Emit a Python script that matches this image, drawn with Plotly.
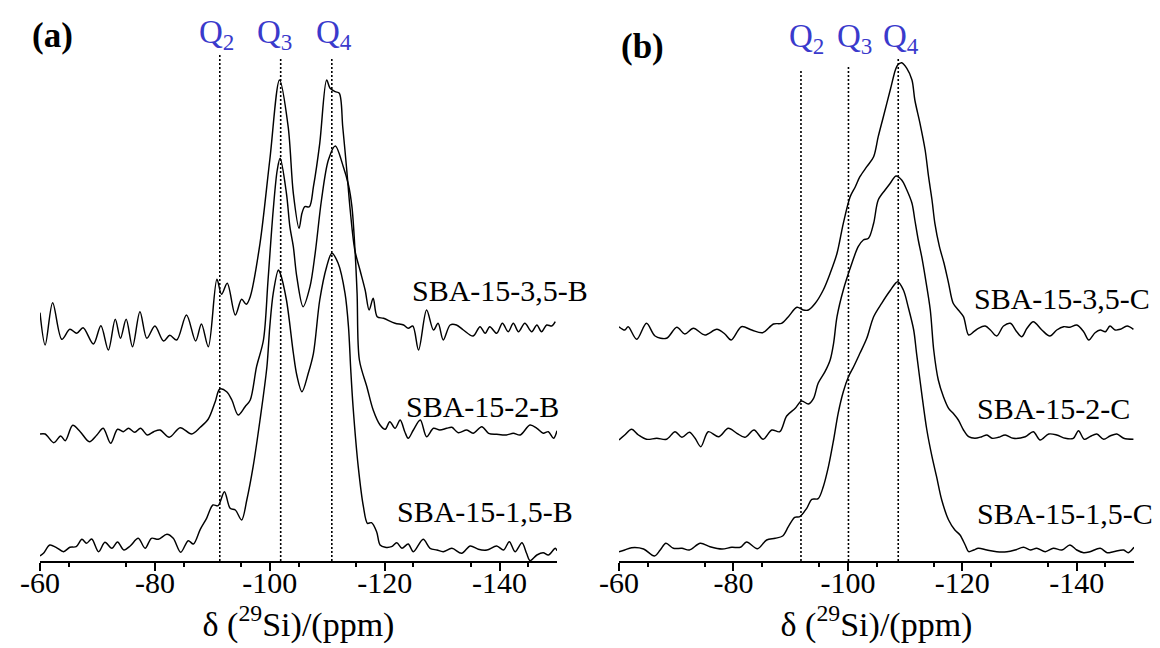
import plotly.graph_objects as go

# ---------------- data (chemical shift in ppm, intensity in arbitrary units) ----------------
# Panel (a)
a1_ppm = [-60.0,-60.9,-62.2,-63.8,-65.2,-66.4,-67.5,-69.3,-70.6,-71.9,
          -73.1,-74.0,-75.0,-76.1,-77.4,-78.6,-80.0,-81.5,-82.6,-83.8,
          -85.5,-87.1,-88.1,-89.3,-90.8,-91.6,-92.6,-94.0,-95.1,-95.9,
          -96.6,-98.3,-100.0,-101.7,-103.2,-104.1,-105.1,-105.6,-106.1,-106.9,
          -107.6,-108.7,-109.9,-110.5,-111.4,-112.1,-112.7,-113.4,-114.0,-114.8,
          -115.7,-116.6,-117.3,-118.0,-118.7,-119.8,-121.8,-123.3,-124.1,-124.9,
          -125.9,-127.3,-128.5,-129.3,-130.2,-131.4,-132.5,-133.7,-135.4,-136.6,
          -137.5,-138.3,-139.5,-140.5,-141.5,-142.4,-143.3,-144.4,-145.6,-146.5,
          -147.3,-148.2,-149.1,-149.7]
a1_int = [18.3,-14,28.3,-8.3,1.7,-2.3,3.3,-13,5.3,-19,
          11.7,-7.3,11.7,-15.7,19.3,-7.3,5,-10,-4.3,-9,
          16,-10,7,-15.7,51.7,36.7,47.7,16,31.7,26.7,
          34.3,87.7,171,251,204.3,137.7,102.7,117.7,124.3,124.3,
          144.3,187.7,251,242.7,239.3,237.7,204.3,161,121,81,
          61,41,21,32.7,14.3,12.7,7.7,6,2.7,5,
          -19,21,1,7.7,-9,6,6,1,-5,4.3,
          -2.3,4.3,-2.3,7.7,-0.7,7.7,-0.7,7.7,-0.7,6,
          -0.7,6,5,9.3]

a2_ppm = [-60.0,-60.9,-62.4,-63.6,-64.4,-65.7,-67.0,-68.6,-69.9,-71.0,
          -72.3,-73.5,-74.5,-75.4,-76.5,-77.5,-78.7,-79.8,-80.9,-82.5,
          -84.4,-86.4,-87.9,-89.3,-90.5,-91.3,-92.5,-93.4,-94.5,-95.7,
          -96.6,-97.7,-98.9,-99.7,-100.6,-101.3,-101.8,-102.9,-103.5,-104.1,
          -104.7,-105.8,-107.0,-107.9,-109.0,-110.2,-111.4,-112.8,-113.7,-114.3,
          -114.8,-115.2,-115.6,-116.9,-118.0,-119.2,-120.1,-120.9,-121.8,-122.7,
          -123.5,-124.1,-125.0,-126.2,-127.3,-128.5,-129.6,-130.8,-131.7,-132.8,
          -134.3,-135.4,-136.9,-138.1,-139.5,-141.2,-142.4,-143.6,-145.3,-146.5,
          -147.6,-148.5,-149.4,-150.0]
a2_int = [2,2,-6.7,0,-4.7,10.7,4.3,-5.7,1,7.7,
          -7.3,6.7,4.3,7.7,3.7,7.7,1,4.3,6,-1.3,
          8.3,2,8.7,17,34.3,47,44.3,36,21,29.3,
          36,69.3,96,156,226,266,277.7,242.7,209.3,189.3,
          159.3,129.3,149.3,182.7,236,276,290,269.3,251,229.3,
          189.3,142.7,76,49.3,26,11,6.7,14.3,7.7,16,
          4.3,-2.3,6,16,-0.7,7.7,6,7.7,8.7,3.3,
          6,2.7,9.3,2.7,1.7,1,2.7,1,11,7.7,
          2.7,4.3,-2.3,5.3]

a3_ppm = [-60.0,-60.6,-61.7,-62.8,-64.1,-65.2,-66.3,-67.3,-68.1,-69.0,
          -70.2,-71.3,-72.5,-73.5,-74.6,-75.7,-77.1,-78.3,-79.4,-80.6,
          -82.1,-83.2,-84.5,-85.8,-86.7,-87.9,-89.0,-90.1,-91.0,-92.1,
          -93.1,-94.0,-95.1,-96.0,-97.1,-98.3,-99.5,-100.0,-100.6,-101.5,
          -101.8,-102.9,-104.1,-104.7,-105.6,-106.7,-107.6,-108.7,-109.9,-110.8,
          -111.9,-113.1,-113.7,-114.1,-114.5,-115.4,-116.3,-117.0,-117.7,-118.6,
          -119.2,-120.1,-121.2,-122.1,-123.0,-124.1,-125.0,-126.7,-127.9,-129.1,
          -130.2,-131.7,-133.4,-134.9,-136.3,-137.8,-139.5,-140.7,-141.7,-142.7,
          -143.9,-144.7,-145.3,-146.5,-147.6,-148.5,-149.7,-150.0]
a3_int = [-3,-0.3,8,5.7,1.3,5.7,6.3,13.7,9.7,14,
          1.3,10.7,4.7,11,3,7,14.7,4.7,14.7,13.7,
          18.7,14.7,0.7,12.3,9,23.7,34.7,48,47.3,61.3,
          44.7,43,33,53,86.3,133,186.3,226.3,259.7,283,
          280,253,200,178,161.3,179.7,199.7,253,286.3,299.7,
          289.7,259.7,226.3,183,146.3,86.3,46.3,29.7,30.3,21.3,
          8,5.7,6.3,10.3,4.7,9,1.3,13.7,4.7,3,
          1.3,4.7,-0.3,7,3.7,3,7,3,11.3,1.3,
          10.3,-0.3,-7.7,-2,0.3,-2,4.7,2.3]

# Panel (b)
b1_ppm = [-60.0,-61.0,-61.6,-63.1,-64.8,-66.3,-68.3,-70.1,-71.5,-73.0,
          -75.0,-77.1,-78.5,-79.6,-81.4,-83.2,-85.1,-87.0,-88.4,-89.6,
          -91.1,-92.2,-93.1,-94.3,-95.7,-96.9,-98.1,-99.2,-100.4,-101.3,
          -102.1,-103.3,-104.5,-105.3,-106.2,-107.4,-108.3,-108.7,-109.4,-110.3,
          -111.2,-111.7,-112.6,-113.5,-114.1,-114.7,-115.2,-116.0,-116.8,-117.6,
          -118.4,-119.3,-120.2,-121.1,-122.0,-122.8,-124.0,-124.9,-126.0,-127.2,
          -128.4,-129.5,-130.4,-131.3,-132.4,-133.9,-135.3,-136.5,-137.7,-138.8,
          -140.0,-141.2,-142.1,-143.2,-144.1,-145.0,-145.8,-146.7,-147.6,-148.8,
          -149.9]
b1_int = [10.3,7,10.3,-2.3,13.7,1,-1.3,9.7,3,8.7,
          2,7.7,3,-3,10.3,7,4.3,13,13.7,20.3,
          29.7,27,27,33.7,47,63.7,83.7,113.7,140.3,150.3,
          160.3,170.3,180.3,200.3,220.3,247,267,272,274.3,268.7,
          257,237,213.7,187,160.3,137,113.7,90.3,73.7,53.7,
          33.7,27,20.3,2,5.3,8.7,11,7,1,11,
          13.7,5.3,0.3,8.7,15.3,7,1,7,10.3,9.7,
          12,5.3,-3,4.3,7,5.3,11,7,7.7,11,
          7.7]

b2_ppm = [-60.0,-61.0,-62.2,-63.4,-64.8,-66.6,-68.3,-69.8,-71.0,-72.3,
          -73.3,-74.3,-75.6,-77.4,-79.1,-80.6,-82.0,-83.6,-85.2,-86.7,
          -88.1,-89.3,-90.8,-91.9,-93.1,-94.0,-94.8,-96.0,-96.9,-97.5,
          -98.1,-99.2,-100.7,-101.8,-102.7,-103.6,-104.5,-105.3,-106.5,-107.4,
          -108.4,-109.4,-110.3,-111.2,-111.7,-112.3,-112.9,-113.5,-114.4,-115.0,
          -115.8,-116.7,-117.6,-118.4,-119.3,-120.2,-121.1,-122.2,-123.4,-124.3,
          -125.2,-126.3,-127.5,-128.9,-131.0,-132.4,-133.6,-135.1,-136.5,-138.0,
          -139.4,-140.3,-141.3,-142.3,-143.5,-144.7,-145.8,-147.0,-148.2,-149.9]
b2_int = [-4,1,6.7,1,-3.3,-2.3,-3.3,4.3,-1.3,3.7,
          -2.3,-10.7,4.3,-0.7,7.7,2.7,-1.3,6,-3.3,6,
          4.3,20,27.7,35,32,37.7,52.7,64.3,76,92.7,
          119.3,146,172.7,189.3,196,197.7,212.7,236,246,252.7,
          260,256,246,232.7,216,196,179.3,159.3,126,86,
          56,39.3,27.7,22.7,16,6,-0.7,-2.3,-0.7,1,
          -2.3,-1.3,1,-2.3,-0.7,4.3,-4,2,1,-2.3,
          -2.3,5.3,-3.3,-0.7,2,-3.3,0,2,-2.3,-3.3]

b3_ppm = [-60.0,-61.0,-62.2,-64.3,-66.2,-67.2,-68.2,-69.5,-71.0,-72.3,
          -74.2,-75.9,-78.0,-79.7,-81.2,-82.3,-84.2,-85.8,-87.3,-88.6,
          -89.6,-90.7,-91.6,-92.8,-93.7,-94.8,-95.7,-96.6,-97.5,-98.3,
          -99.2,-100.1,-101.0,-102.1,-103.3,-104.5,-105.9,-107.4,-108.7,-109.7,
          -110.6,-111.5,-112.0,-112.9,-113.8,-114.7,-115.5,-116.4,-117.6,-118.7,
          -119.6,-120.5,-121.1,-122.0,-122.8,-124.3,-126.0,-127.8,-129.2,-130.7,
          -131.9,-133.0,-134.5,-135.9,-137.4,-138.8,-140.0,-141.2,-142.3,-144.1,
          -145.3,-146.4,-148.2,-149.0,-150.0]
b3_int = [3.3,5,7.3,6,-1,5,11.7,6.7,6.7,5,
          11.7,8.3,6,7.7,7.7,13,6.3,15,16.7,19,
          28.3,37.7,38.3,46.7,55.7,56.3,68.3,88.3,115,141.7,
          163.3,178.3,188.3,201.7,216.7,238.3,251.7,264.5,273.3,265,
          246.7,225,201.7,161.7,125,98.3,78.3,55,35,25,
          20,10,3.3,5,6.7,5,3.3,3.3,5,7.7,
          5,6.7,3.3,6.7,5,10,5,2.3,3.3,6.7,
          2.3,3.3,5,2.3,7.7]

labels_a = ["SBA-15-3,5-B", "SBA-15-2-B", "SBA-15-1,5-B"]
labels_b = ["SBA-15-3,5-C", "SBA-15-2-C", "SBA-15-1,5-C"]
q_names = ["Q<sub>2</sub>", "Q<sub>3</sub>", "Q<sub>4</sub>"]
q_a = [-91.3, -101.9, -110.8]
q_b = [-91.8, -100.1, -108.8]
label_ticks = [-60, -80, -100, -120, -140]
label_text = ["-60", "-80", "-100", "-120", "-140"]
long_ticks = [-70, -90, -110, -130, -150]
short_ticks = [-65, -75, -85, -95, -105, -115, -125, -135, -145]

# ---------------- layout constants (pixels) ----------------
W, H = 1160, 648
BODY = 8                     # page offset of the figure inside the html body
AXIS_Y = 561                 # page row of the x axis line
TOP = 50 - BODY
BOT = H - (AXIS_Y - BODY)
PLOT_H = H - TOP - BOT
offs_a = [230, 125, 8]
offs_b = [224, 125, 6]
qtop_a = [506, 502, 504]
qtop_b = [491, 496, 502]
lab_pos_a = [(-124.4, 271), (-123.4, 155), (-121.8, 50)]
lab_pos_b = [(-121.7, 263), (-122.3, 153), (-122.3, 48)]
qshift_a = [-3, -6, 2]
qshift_b = [6, 6, 3]
FONT = "Liberation Serif"
QCOL = "#3a3acc"


def px_x(X):
    """page column -> paper x"""
    return (X - BODY) / W


def py(Y):
    """page row -> paper y"""
    return (AXIS_Y - Y) / PLOT_H


fig = go.Figure()

panels = [
    ("x", [(a1_ppm, a1_int), (a2_ppm, a2_int), (a3_ppm, a3_int)], offs_a, q_a, qtop_a),
    ("x2", [(b1_ppm, b1_int), (b2_ppm, b2_int), (b3_ppm, b3_int)], offs_b, q_b, qtop_b),
]
for xa, series, offs, qs, qtops in panels:
    for q, qt in zip(qs, qtops):
        fig.add_trace(go.Scatter(x=[q, q], y=[0, qt], mode="lines", xaxis=xa, yaxis="y",
                                 line=dict(color="black", width=1.6, dash="2px,2px"),
                                 showlegend=False, hoverinfo="skip"))
    for (px, iv), off in zip(series, offs):
        fig.add_trace(go.Scatter(x=px, y=[v + off for v in iv], mode="lines", xaxis=xa, yaxis="y",
                                 line=dict(color="black", width=1.45, shape="spline", smoothing=0.9),
                                 showlegend=False, hoverinfo="skip"))

annotations = []
for xr, labs, pos in (("x", labels_a, lab_pos_a), ("x2", labels_b, lab_pos_b)):
    for t, (lx, ly) in zip(labs, pos):
        annotations.append(dict(text=t, x=lx, y=ly, xref=xr, yref="y", xanchor="left",
                                yanchor="middle", showarrow=False,
                                font=dict(family=FONT, size=30, color="black")))
for xr, qs, shifts, yq in (("x", q_a, qshift_a, 34), ("x2", q_b, qshift_b, 38)):
    for name, q, s in zip(q_names, qs, shifts):
        annotations.append(dict(text=name, x=q, y=py(yq), xref=xr, yref="paper", xanchor="center",
                                yanchor="middle", xshift=s, showarrow=False,
                                font=dict(family=FONT, size=33, color=QCOL)))
annotations.append(dict(text="<b>(a)</b>", x=px_x(30), y=py(36), xref="paper", yref="paper",
                        xanchor="left", yanchor="middle", showarrow=False,
                        font=dict(family=FONT, size=35, color="black")))
annotations.append(dict(text="<b>(b)</b>", x=px_x(619), y=py(46), xref="paper", yref="paper",
                        xanchor="left", yanchor="middle", showarrow=False,
                        font=dict(family=FONT, size=35, color="black")))


def xaxis_cfg(x0, x1):
    return dict(domain=[px_x(x0), px_x(x1)], range=[-60, -150], anchor="y", automargin=False,
                showline=True, linecolor="black", linewidth=1.5,
                ticks="outside", ticklen=8, tickwidth=1.5, tickcolor="black",
                tickmode="array", tickvals=label_ticks, ticktext=label_text,
                ticklabelstandoff=-14,
                tickfont=dict(family=FONT, size=30, color="black"),
                minor=dict(tickmode="array", tickvals=short_ticks, ticks="outside",
                           ticklen=4, tickwidth=1.5, tickcolor="black"),
                showgrid=False, zeroline=False,
                title=dict(text="δ (<sup>29</sup>Si)/(ppm)", standoff=14,
                           font=dict(family=FONT, size=34, color="black")))


def tick_overlay(base, x0, x1):
    # unlabeled long ticks every 20 ppm (offset by 10) on top of the base axis
    return dict(overlaying=base, domain=[px_x(x0), px_x(x1)], range=[-60, -150], anchor="y",
                automargin=False, showline=False, showgrid=False, zeroline=False,
                ticks="outside", ticklen=8, tickwidth=1.5, tickcolor="black",
                tickmode="array", tickvals=long_ticks, showticklabels=False)


fig.update_layout(
    template="none",
    width=W, height=H,
    margin=dict(l=0, r=0, t=TOP, b=BOT, pad=0),
    paper_bgcolor="white", plot_bgcolor="white",
    xaxis=xaxis_cfg(40, 557),
    xaxis2=xaxis_cfg(619, 1134),
    xaxis3=tick_overlay("x", 40, 557),
    xaxis4=tick_overlay("x2", 619, 1134),
    yaxis=dict(range=[0, PLOT_H], visible=False, domain=[0, 1], automargin=False),
    annotations=annotations,
    showlegend=False,
)

fig.write_html("out.html")
